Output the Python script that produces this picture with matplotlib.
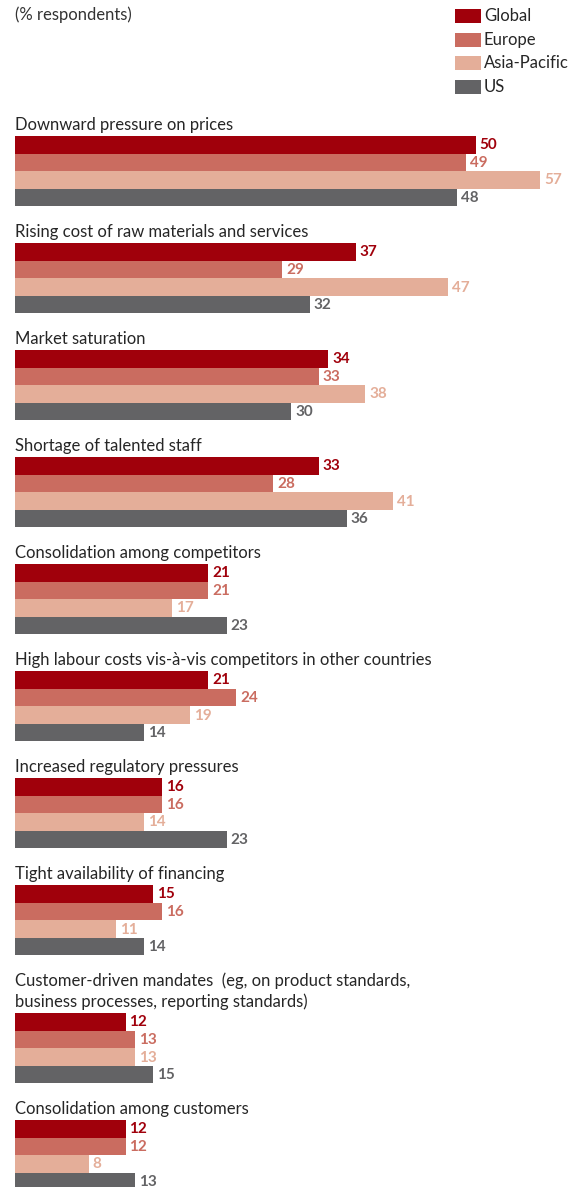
import matplotlib
matplotlib.use('Agg')
import matplotlib.pyplot as plt

plt.rcParams['font.family'] = ['Lato', 'DejaVu Sans']

# Survey shares (% respondents) per concern and region
categories = [
    'Downward pressure on prices',
    'Rising cost of raw materials and services',
    'Market saturation',
    'Shortage of talented staff',
    'Consolidation among competitors',
    'High labour costs vis-à-vis competitors in other countries',
    'Increased regulatory pressures',
    'Tight availability of financing',
    'Customer-driven mandates  (eg, on product standards,\nbusiness processes, reporting standards)',
    'Consolidation among customers',
]
series = ['Global', 'Europe', 'Asia-Pacific', 'US']
global_vals = [50, 37, 34, 33, 21, 21, 16, 15, 12, 12]
europe_vals = [49, 29, 33, 28, 21, 24, 16, 16, 13, 12]
asia_vals = [57, 47, 38, 41, 17, 19, 14, 11, 13, 8]
us_vals = [48, 32, 30, 36, 23, 14, 23, 14, 15, 13]
values = [global_vals, europe_vals, asia_vals, us_vals]

bar_colors = ['#a0000b', '#ca6c60', '#e4ae99', '#636365']
text_colors = ['#a0000b', '#ca6c60', '#e4ae99', '#636365']

W, H = 585, 1187
fig = plt.figure(figsize=(W / 100, H / 100), dpi=100)
ax = fig.add_axes([0, 0, 1, 1])

# x axis in percent, 9.21 px per point, bars starting 15 px from the left
px_per_unit = 9.21
x0 = 15
ax.set_xlim(-x0 / px_per_unit, (W - x0) / px_per_unit)
# y axis in pixels from the top
ax.set_ylim(H, 0)
ax.axis('off')

bar_h = 17.6
group_step = 107
line_h = 21
top = 136
for i, cat in enumerate(categories):
    lines = cat.split('\n')
    for k, line in enumerate(lines):
        ax.text(0, top - 6 - (len(lines) - 1 - k) * line_h, line,
                fontsize=12, color='#262626', va='baseline', ha='left')
    for j in range(4):
        v = values[j][i]
        y = top + j * bar_h
        ax.barh(y, v, height=bar_h, align='edge', color=bar_colors[j],
                linewidth=0)
        ax.text(v + 4 / px_per_unit, y + bar_h / 2 + 0.5, str(v),
                fontsize=11, fontweight='bold', color=text_colors[j],
                va='center', ha='left')
    top += group_step
    if i + 1 < len(categories) and '\n' in categories[i + 1]:
        top += line_h * (categories[i + 1].count('\n'))

fig.text(15 / W, 1 - 15 / H, '(% respondents)', fontsize=12,
         color='#333333', va='center', ha='left')

# Legend drawn as squares with labels
leg_rows = [16, 40, 63, 87]
for j, name in enumerate(series):
    yc = leg_rows[j]
    fig.patches.append(plt.Rectangle((455 / W, 1 - (yc + 7) / H), 26 / W,
                                     14 / H, transform=fig.transFigure,
                                     color=bar_colors[j], linewidth=0))
    fig.text(484 / W, 1 - yc / H, name, fontsize=12, color='#262626',
             va='center', ha='left')

fig.savefig('out.png', dpi=100)
